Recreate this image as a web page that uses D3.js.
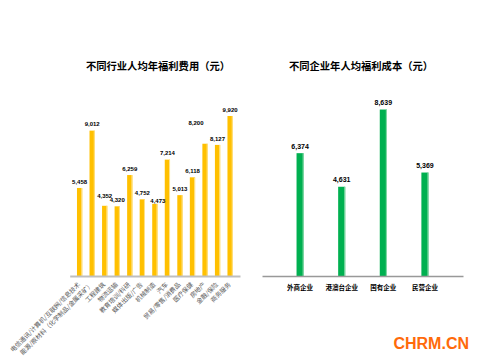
<!DOCTYPE html>
<html><head><meta charset="utf-8">
<script src="https://cdn.jsdelivr.net/npm/d3@7"></script>
<style>
html,body{margin:0;padding:0;background:#fff;}
svg{display:block;}
</style></head>
<body>
<svg id="c" width="481" height="360"></svg>
<script>
const industryTitle = "不同行业人均年福利费用（元）";
const industries = ["电信通讯/计算机/互联网/信息技术","能源/原材料（化学制品/金属采矿）","工程建筑","物流运输","教育培训/科研","媒体出版/广告","机械制造","汽车","贸易/零售/消费品","医疗保健","房地产","金融/保险","商务服务"];
const industryValues = [5458, 9012, 4352, 4320, 6259, 4752, 4473, 7214, 5013, 6118, 8200, 8127, 9920];

const companyTitle = "不同企业年人均福利成本（元）";
const companies = ["外商企业","港澳台企业","国有企业","民营企业"];
const companyValues = [6374, 4631, 8639, 5369];

const watermark = "CHRM.CN";

const svg = d3.select("#c");
const CJK = "'Noto Sans CJK SC','Noto Sans',sans-serif";
const NUM = "'Liberation Sans',Arial,sans-serif";
const fmt = d3.format(",");

function drawChart(opt){
  const g = svg.append("g");
  const x = d3.scaleBand().domain(opt.cats).range(opt.xr).padding(opt.pad);
  const y = d3.scaleLinear().domain([0, 10000]).range(opt.yr);
  const data = opt.cats.map((c,i)=>({c, v: opt.vals[i], i}));
  const nudge = opt.nudge || {};
  // bars
  g.selectAll("rect.bar").data(data).join("rect").attr("class","bar")
    .attr("x", d=>x(d.c)).attr("y", d=>y(d.v))
    .attr("width", x.bandwidth()).attr("height", d=>y(0)-y(d.v))
    .attr("fill", opt.color);
  g.selectAll("rect.hl").data(data).join("rect").attr("class","hl")
    .attr("x", d=>x(d.c)+x.bandwidth()-1).attr("y", d=>y(d.v))
    .attr("width", 1).attr("height", d=>y(0)-y(d.v))
    .attr("fill", opt.light);
  // value labels
  g.selectAll("text.val").data(data).join("text").attr("class","val")
    .attr("x", d=>x(d.c)+x.bandwidth()/2 + (nudge[d.i]?nudge[d.i][0]:0))
    .attr("y", d=>y(d.v)-opt.lblOff + (nudge[d.i]?nudge[d.i][1]:0))
    .attr("text-anchor","middle")
    .style("font-family", NUM).style("font-size", opt.valSize+"px").style("font-weight","bold")
    .attr("fill","#000").text(d=>fmt(d.v));
  // axis
  const ax = g.append("g").attr("transform", `translate(0,${y(0)})`)
    .call(d3.axisBottom(x).tickSize(0).tickSizeOuter(0));
  ax.select(".domain").attr("stroke", opt.axisColor).attr("stroke-width", opt.axisW);
  ax.selectAll("text").style("font-family", CJK);
  opt.styleLabels(ax.selectAll(".tick text"));
  // title
  svg.append("text").attr("x", opt.titleX).attr("y", 70).attr("text-anchor","middle")
    .style("font-family", CJK).style("font-size","10.3px").style("font-weight","bold")
    .attr("fill","#000").text(opt.title);
}

drawChart({
  cats: industries, vals: industryValues, xr:[69.7,240], pad:0.58, yr:[276, 276-161.3],
  color:"#FFC000", light:"#FFE38C", lblOff:4.3, valSize:6, axisColor:"#BFBFBF", axisW:2,
  nudge: {2:[0,-3.5], 6:[3,3], 10:[-9,-14.5]},
  title: industryTitle, titleX:158,
  styleLabels: sel => sel.attr("y",0).attr("x",0).attr("dy",null)
    .attr("transform","translate(1,9) rotate(-45)")
    .style("text-anchor","end").style("font-size","6.3px").attr("fill","#595959")
});

drawChart({
  cats: companies, vals: companyValues, xr:[262,463], pad:0.83, yr:[276, 276-192.7],
  color:"#00B050", light:"#8FDBAE", lblOff:4.5, valSize:7, axisColor:"#999999", axisW:1.5,
  title: companyTitle, titleX:361,
  styleLabels: sel => sel.attr("y",14).attr("dy",null)
    .style("font-size","6.5px").style("font-weight","bold").attr("fill","#000")
});

svg.append("text").attr("x", 469).attr("y", 349).attr("text-anchor","end")
  .style("font-family", NUM).style("font-size","16px").style("font-weight","bold")
  .attr("fill","#FF6A0A").text(watermark);
</script>
</body></html>
